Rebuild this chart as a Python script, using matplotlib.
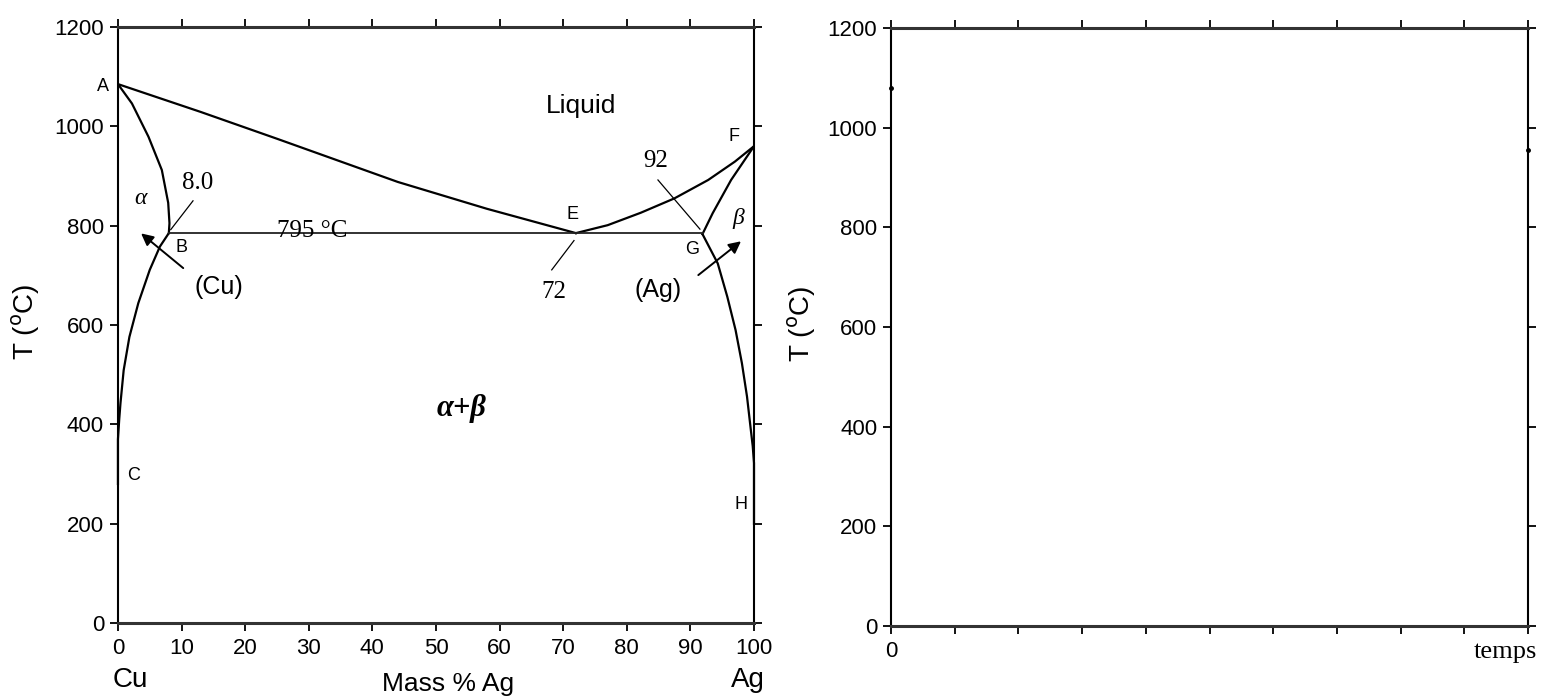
import matplotlib; matplotlib.use('Agg')
import matplotlib.pyplot as pl
import numpy as np

pl.rcParams['font.family'] = ['Liberation Sans', 'DejaVu Sans']

#############################################################################
# Cu-Ag phase diagram (mass % Ag, T in C)
liq_AE_x = [0, 13, 25, 44, 58, 72]
liq_AE_T = [1085, 1029, 975, 888, 834, 785]

liq_EF_x = [72, 77, 82.2, 87.5, 92.8, 97, 100]
liq_EF_T = [785, 801, 826, 855, 892, 929, 960]

sol_AB_x = [0, 2.2, 4.8, 6.9, 7.9, 8.1, 8.0]
sol_AB_T = [1085, 1046, 979, 912, 846, 805, 785]

solv_BC_x = [8.0, 6.6, 5.0, 3.2, 1.8, 0.9, 0.4, 0.2, 0, 0]
solv_BC_T = [785, 758, 711, 644, 576, 509, 443, 410, 370, 280]

sol_FG_x = [100, 96.4, 93.5, 91.9]
sol_FG_T = [960, 892, 825, 783]

solv_GH_x = [91.9, 94.3, 95.8, 97.1, 98.1, 98.9, 99.5, 99.8, 100, 100]
solv_GH_T = [783, 724, 657, 590, 523, 456, 389, 356, 322, 200]

eut_x = [8, 92]
eut_T = 785

points = ['A', 'B', 'C', 'E', 'F', 'G', 'H']
points_x = [-2.4, 10, 2.4, 71.5, 96.9, 90.2, 98]
points_T = [1080, 757, 298, 822, 980, 751, 238]

# empty cooling-curve frame: only the marks left at the melting points
temps_x = [0, 10]
temps_T = [1080, 955]
#############################################################################

fig = pl.figure(figsize=(15.54, 6.99), dpi=100)

def frame(ax, xlab):
    for s in ['left', 'right']:
        ax.spines[s].set_linewidth(1.5)
    for s in ['top', 'bottom']:
        ax.spines[s].set_linewidth(2.2)
        ax.spines[s].set_color('#333333')
    ax.set_ylim(0, 1200)
    ax.set_yticks(np.arange(0, 1201, 200))
    ax.tick_params(axis='both', direction='out', width=1.3, length=6,
                   labelsize=16, top=True, right=True,
                   labeltop=False, labelright=False)
    ax.tick_params(axis='y', pad=4)
    ax.tick_params(axis='x', pad=5)
    ax.set_ylabel(r'T ($^{\rm o}$C)', fontsize=20)
    ax.yaxis.set_label_coords(xlab, 0.505)

###########################################################################
ax = fig.add_axes([0.0759, 0.1087, 0.4093, 0.8527])
frame(ax, -0.119)
ax.set_xlim(0, 100)
ax.set_xticks(np.arange(0, 101, 10))

lw = 1.6
ax.plot(liq_AE_x, liq_AE_T, color='k', lw=lw)
ax.plot(liq_EF_x, liq_EF_T, color='k', lw=lw)
ax.plot(sol_AB_x, sol_AB_T, color='k', lw=lw)
ax.plot(solv_BC_x, solv_BC_T, color='k', lw=lw, clip_on=False)
ax.plot(sol_FG_x, sol_FG_T, color='k', lw=lw)
ax.plot(solv_GH_x, solv_GH_T, color='k', lw=lw, clip_on=False)
ax.plot(eut_x, [eut_T, eut_T], color='#222222', lw=1.3)

for p, px, pT in zip(points, points_x, points_T):
    ax.text(px, pT, p, fontsize=13, ha='center', va='center', clip_on=False)

ax.text(72.8, 1041, 'Liquid', fontsize=19, ha='center', va='center')
ax.text(3.5, 855, 'α', fontsize=17, ha='center', va='center',
        family='Liberation Serif', style='italic')
ax.text(97.5, 815, 'β', fontsize=17, ha='center', va='center',
        family='Liberation Serif', style='italic')
ax.text(54, 432, 'α+β', fontsize=22, ha='center', va='center',
        family='Liberation Serif', style='italic', weight='bold')

serif = 'Liberation Serif'
ax.text(12.6, 885, '8.0', fontsize=18, ha='center', va='center', family=serif)
ax.plot([11.8, 8.3], [850, 792], color='k', lw=0.9)
ax.text(30.5, 790, '795 °C', fontsize=18, ha='center', va='center', family=serif)
ax.text(68.5, 666, '72', fontsize=18, ha='center', va='center', family=serif)
ax.plot([71.7, 68.2], [770, 711], color='k', lw=0.9)
ax.text(84.6, 930, '92', fontsize=18, ha='center', va='center', family=serif)
ax.plot([84.9, 91.5], [892, 793], color='k', lw=0.9)

ax.text(15.8, 677, '(Cu)', fontsize=18, ha='center', va='center')
ax.annotate('', xy=(3.3, 788), xytext=(10.6, 711),
            arrowprops=dict(arrowstyle='-|>', color='k', lw=1.4, mutation_scale=18))
ax.text(84.9, 670, '(Ag)', fontsize=18, ha='center', va='center')
ax.annotate('', xy=(98.3, 772), xytext=(90.9, 697),
            arrowprops=dict(arrowstyle='-|>', color='k', lw=1.4, mutation_scale=18))

ax.text(51.9, -122, 'Mass % Ag', fontsize=19, ha='center', va='center', clip_on=False)
ax.text(1.9, -115, 'Cu', fontsize=20, ha='center', va='center', clip_on=False)
ax.text(99, -115, 'Ag', fontsize=20, ha='center', va='center', clip_on=False)

###########################################################################
ax = fig.add_axes([0.5734, 0.1044, 0.4099, 0.8556])
frame(ax, -0.115)
ax.set_xlim(0, 10)
ax.set_xticks(np.arange(0, 11, 1))
ax.set_xticklabels(['0'] + [''] * 10)
ax.plot(temps_x, temps_T, 'k.', ms=5, ls='none', clip_on=False)
ax.text(9.64, -52, 'temps', fontsize=19, ha='center', va='center',
        family='Liberation Serif', clip_on=False)

fig.savefig('out.png', dpi=100)
